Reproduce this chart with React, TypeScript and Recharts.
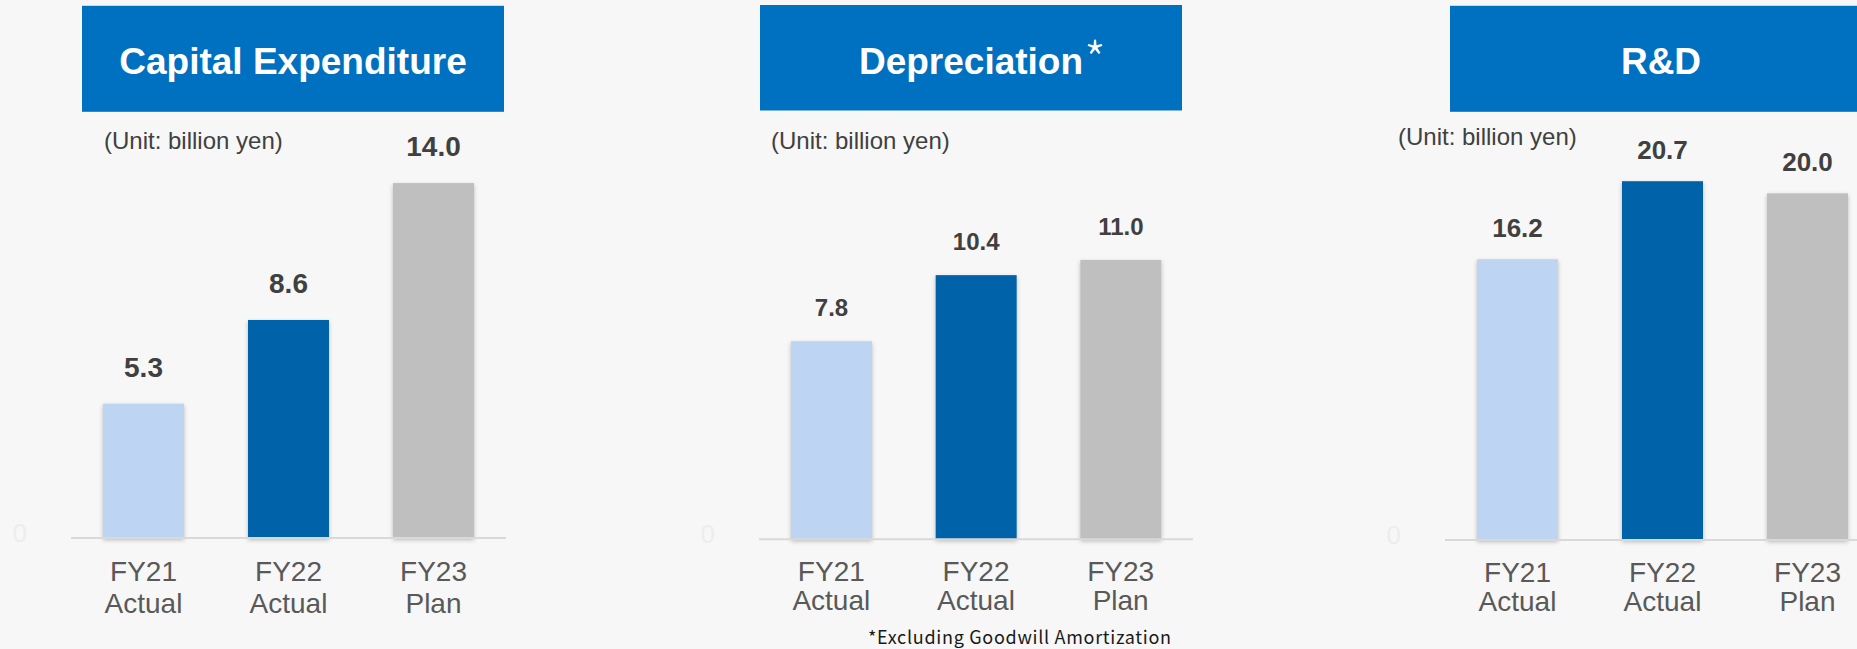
import React from 'react';
import { BarChart, Bar, XAxis, YAxis, LabelList } from 'recharts';

// ---- data ----
const CATEGORY_YEARS = ['FY21', 'FY22', 'FY23'];
const CATEGORY_KINDS = ['Actual', 'Actual', 'Plan'];
const CAPEX_VALUES = [5.3, 8.6, 14.0];
const DEPRECIATION_VALUES = [7.8, 10.4, 11.0];
const RND_VALUES = [16.2, 20.7, 20.0];
const PANEL_TITLES = ['Capital Expenditure', 'Depreciation', 'R&D'];
const UNIT_LABEL = '(Unit: billion yen)';
const FOOTNOTE = '*Excluding Goodwill Amortization';
const Y_TICKS = [0];

// ---- styles ----
const BAR_COLORS = ['#BED4F3', '#0563AA', '#BFBFBF'];
const TITLE_BG = '#0070C0';
const PAGE_BG = '#F7F7F7';
const SANS = '"Liberation Sans", Arial, sans-serif';

const W = 1857;
const H = 649;
const X_AXIS_H = 80;

const PANELS = [
  {
    values: CAPEX_VALUES, title: PANEL_TITLES[0],
    chartLeft: 0, plotLeft: 71, plotRight: 506, plotTop: 132.4, axisY: 538, domainMax: 16,
    labelSize: 28, labelOffset: 27, tick1: 43, tick2: 75,
  },
  {
    values: DEPRECIATION_VALUES, title: PANEL_TITLES[1],
    chartLeft: 620, plotLeft: 759, plotRight: 1193, plotTop: 132.9, axisY: 539.3, domainMax: 16,
    labelSize: 24, labelOffset: 25, tick1: 42, tick2: 71,
  },
  {
    values: RND_VALUES, title: PANEL_TITLES[2],
    chartLeft: 1237, plotLeft: 1445, plotRight: 1880, plotTop: 124, axisY: 540, domainMax: 24,
    labelSize: 26, labelOffset: 22, tick1: 42, tick2: 71,
  },
];

const makeRows = (values: number[]) =>
  CATEGORY_YEARS.map((year, i) => ({ year, kind: CATEGORY_KINDS[i], value: values[i] }));

const ShadowBar = (props: any) => {
  const { x, y, width, height, index } = props;
  if (height <= 0) return null;
  return (
    <rect x={x} y={y} width={width} height={height} fill={BAR_COLORS[index % BAR_COLORS.length]}
      filter="url(#barShadow)" />
  );
};

function Panel({ p }: { p: any }) {
  const rows = makeRows(p.values);
  const chartW = p.plotRight - p.chartLeft;
  const XTick = (props: any) => {
    const { x, y, index } = props;
    return (
      <g>
        <text x={x} y={y + p.tick1} textAnchor="middle" fontFamily={SANS} fontSize={28} fill="#595959">
          {CATEGORY_YEARS[index]}
        </text>
        <text x={x} y={y + p.tick2} textAnchor="middle" fontFamily={SANS} fontSize={28} fill="#595959">
          {CATEGORY_KINDS[index]}
        </text>
      </g>
    );
  };
  const YTick = (props: any) => {
    const { x, y, payload } = props;
    return (
      <text x={x} y={y + 4} textAnchor="end" fontFamily={SANS} fontSize={26} fill="#EDEDED">
        {payload.value}
      </text>
    );
  };
  const ValueLabel = (props: any) => {
    const { x, y, width, value } = props;
    return (
      <text x={x + width / 2} y={y - p.labelOffset} textAnchor="middle" fontFamily={SANS}
        fontWeight="bold" fontSize={p.labelSize} fill="#404040">
        {Number(value).toFixed(1)}
      </text>
    );
  };
  return (
    <div style={{ position: 'absolute', left: p.chartLeft, top: 0, width: chartW, height: H }}>
      <BarChart width={chartW} height={H} data={rows}
        margin={{ top: p.plotTop, right: 0, left: 0, bottom: H - p.axisY - X_AXIS_H }}>
        <XAxis dataKey="year" height={X_AXIS_H} axisLine={{ stroke: '#D9D9D9', strokeWidth: 2 }}
          tickLine={false} tickSize={0} tickMargin={0} tick={<XTick />} interval={0} />
        <YAxis width={p.plotLeft - p.chartLeft} domain={[0, p.domainMax]} ticks={Y_TICKS}
          axisLine={false} tickLine={false} tickSize={0} tickMargin={44} tick={<YTick />} />
        <Bar dataKey="value" barSize={81} isAnimationActive={false} shape={<ShadowBar />}>
          <LabelList dataKey="value" content={<ValueLabel />} />
        </Bar>
      </BarChart>
    </div>
  );
}

export default function App() {
  return (
    <div style={{ position: 'absolute', left: 0, top: 0, width: W, height: H, background: PAGE_BG, overflow: 'hidden' }}>
      <svg width={0} height={0} style={{ position: 'absolute' }}>
        <defs>
          <filter id="barShadow" x="-20%" y="-5%" width="140%" height="115%">
            <feDropShadow dx="0" dy="2" stdDeviation="2" floodColor="#000" floodOpacity="0.25" />
          </filter>
        </defs>
      </svg>
      {PANELS.map((p, i) => <Panel key={i} p={p} />)}
      <svg width={W} height={H} style={{ position: 'absolute', left: 0, top: 0, pointerEvents: 'none' }}>
        <rect x={82} y={5.8} width={422} height={106} fill={TITLE_BG} />
        <rect x={760} y={5} width={422} height={105.5} fill={TITLE_BG} />
        <rect x={1450} y={5.8} width={422} height={106} fill={TITLE_BG} />
        <text x={293} y={74} textAnchor="middle" fontFamily={SANS} fontWeight="bold" fontSize={37} fill="#fff">{PANEL_TITLES[0]}</text>
        <text x={971} y={74} textAnchor="middle" fontFamily={SANS} fontWeight="bold" fontSize={37} fill="#fff">{PANEL_TITLES[1]}</text>
        <text x={1084} y={79} fontFamily='"Noto Sans CJK JP", sans-serif' fontWeight={300} fontSize={50} fill="#fff">*</text>
        <text x={1661} y={74} textAnchor="middle" fontFamily={SANS} fontWeight="bold" fontSize={37} fill="#fff">{PANEL_TITLES[2]}</text>
        <text x={104} y={149} fontFamily={SANS} fontSize={24} fill="#404040">{UNIT_LABEL}</text>
        <text x={771} y={149} fontFamily={SANS} fontSize={24} fill="#404040">{UNIT_LABEL}</text>
        <text x={1398} y={145} fontFamily={SANS} fontSize={24} fill="#404040">{UNIT_LABEL}</text>
        <text x={868} y={644} fontFamily='"Noto Sans CJK JP", sans-serif' fontSize={18} letterSpacing={0.7} fill="#1A1A1A">{FOOTNOTE}</text>
      </svg>
    </div>
  );
}
